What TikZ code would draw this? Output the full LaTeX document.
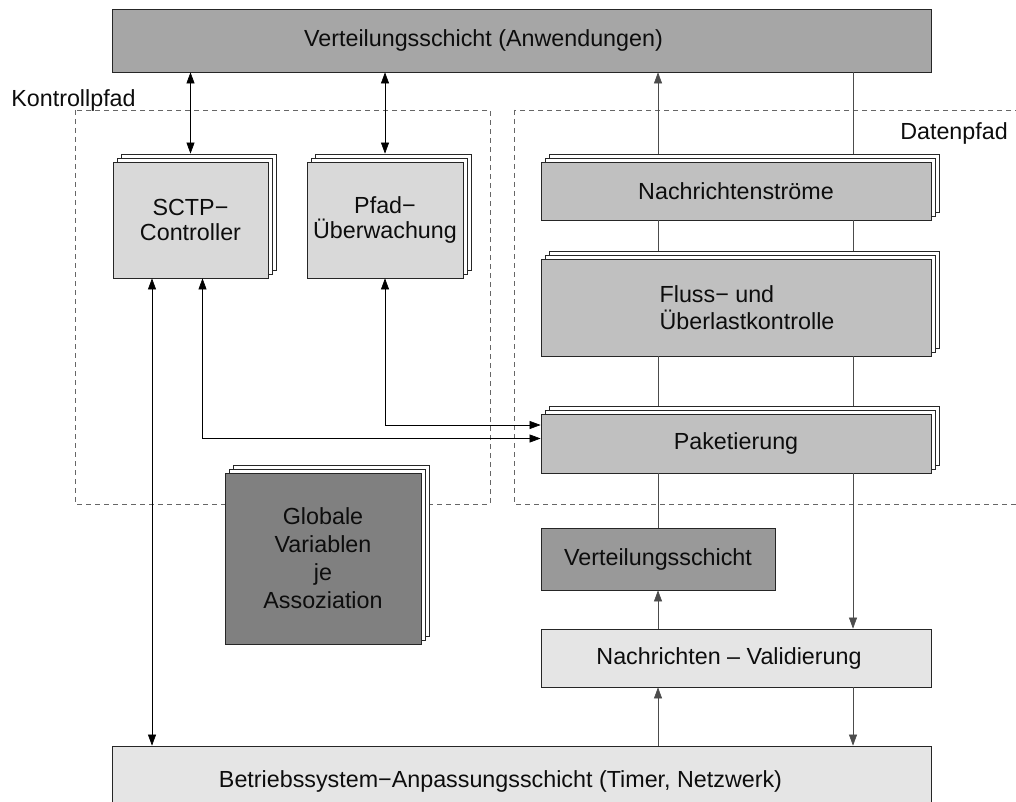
\documentclass[tikz,border=0pt]{standalone}
\usepackage{fontspec}
\setmainfont{Liberation Sans}
\usetikzlibrary{arrows.meta,shadows,calc}
\definecolor{grayA}{HTML}{A6A6A6}
\definecolor{grayB}{HTML}{D9D9D9}
\definecolor{grayC}{HTML}{C0C0C0}
\definecolor{grayD}{HTML}{808080}
\definecolor{grayE}{HTML}{999999}
\definecolor{grayF}{HTML}{E5E5E5}
\begin{document}
\begin{tikzpicture}[x=1pt,y=-1pt,
 every node/.style={font=\fontsize{23.3}{25}\selectfont, text=black!95},
 box/.style={draw=black!85, line width=0.8pt, inner sep=0pt, align=center},
 stack/.style={box, double copy shadow={shadow xshift=4pt, shadow yshift=4pt, fill=white, draw=black!85, line width=0.8pt}},
 ctl/.style={line width=0.6pt, {Triangle[length=11pt,width=8pt]}-{Triangle[length=11pt,width=8pt]}},
 dat/.style={line width=0.6pt, draw=black!70},
 tip/.style={-{Triangle[length=11pt,width=8pt]}},
 region/.style={draw=black!60, line width=0.9pt, dash pattern=on 5pt off 4pt}]
\useasboundingbox (0,0) rectangle (1016,802);
\fill[white] (0,0) rectangle (1016,802);

% regions
\draw[region] (75,110) rectangle (490,504);
\draw[region] (514,110) rectangle (1030,504);
\node (kp) at (73.5,100) {Kontrollpfad};
\node (dp) at (954,133) {Datenpfad};

% nodes
\node[box, fill=grayA, minimum width=819pt, minimum height=63pt,
  label={[xshift=-38pt]center:Verteilungsschicht (Anwendungen)}] (top) at (521.5,40.5) {};
\node[stack, fill=grayB, minimum width=155pt, minimum height=116pt] (sctp) at (190.5,220) {SCTP−\\Controller};
\node[stack, fill=grayB, minimum width=156pt, minimum height=116pt] (pfad) at (385,220) {Pfad−\\Überwachung};
\node[stack, fill=grayC, minimum width=390pt, minimum height=58pt] (nach) at (736,191) {Nachrichtenströme};
\node[stack, fill=grayC, minimum width=390pt, minimum height=97pt,
  label={[align=left, xshift=11pt, font=\fontsize{23.3}{27}\selectfont]center:Fluss− und\\Überlastkontrolle}] (fluss) at (736,307.5) {};
\node[stack, fill=grayC, minimum width=390pt, minimum height=59pt] (paket) at (736,443.5) {Paketierung};
\node[stack, fill=grayD, minimum width=196pt, minimum height=171pt, font=\fontsize{23.3}{28}\selectfont] (glob) at (323,558.5) {Globale\\Variablen\\je\\Assoziation};
\node[box, fill=grayE, minimum width=234pt, minimum height=62pt] (vs) at (658,559) {Verteilungsschicht};
\node[box, fill=grayF, minimum width=390pt, minimum height=58pt,
  label={[xshift=-7pt]center:Nachrichten – Validierung}] (valid) at (736,658) {};
\node[box, fill=grayF, minimum width=819pt, minimum height=70pt,
  label={[xshift=-21pt]center:Betriebssystem−Anpassungsschicht (Timer, Netzwerk)}] (bottom) at (521.5,781) {};

% helper coordinates
\coordinate (xa) at ([xshift=-78pt]nach.north);
\coordinate (xb) at ([xshift=117pt]nach.north);
\coordinate (xc) at ([xshift=-38.5pt]sctp.south);
\coordinate (xd) at ([xshift=12pt]sctp.south);
\coordinate (ya) at ([yshift=5pt]paket.west);
\coordinate (yb) at ([yshift=18.5pt]paket.west);

% control connectors
\draw[ctl] ([yshift=8pt]sctp.north) -- (sctp.north |- top.south);
\draw[ctl] ([yshift=8pt]pfad.north) -- (pfad.north |- top.south);
\draw[ctl] (xc) -- (xc |- bottom.north);
\draw[ctl] (xd) |- (ya);
\draw[ctl] (pfad.south) |- (yb);

% data connectors
\draw[dat,tip] ([yshift=8pt]xa) -- (xa |- top.south);
\draw[dat] (xb |- top.south) -- ([yshift=8pt]xb);
\draw[dat] (xa |- nach.south) -- ($(xa |- fluss.north)+(0,-8)$);
\draw[dat] (xb |- nach.south) -- ($(xb |- fluss.north)+(0,-8)$);
\draw[dat] (xa |- fluss.south) -- ($(xa |- paket.north)+(0,-8)$);
\draw[dat] (xb |- fluss.south) -- ($(xb |- paket.north)+(0,-8)$);
\draw[dat] (xa |- paket.south) -- (vs.north);
\draw[dat,tip] (xa |- valid.north) -- (vs.south);
\draw[dat,tip] (xa |- bottom.north) -- (xa |- valid.south);
\draw[dat,tip] (xb |- paket.south) -- (xb |- valid.north);
\draw[dat,tip] (xb |- valid.south) -- (xb |- bottom.north);
\end{tikzpicture}
\end{document}
